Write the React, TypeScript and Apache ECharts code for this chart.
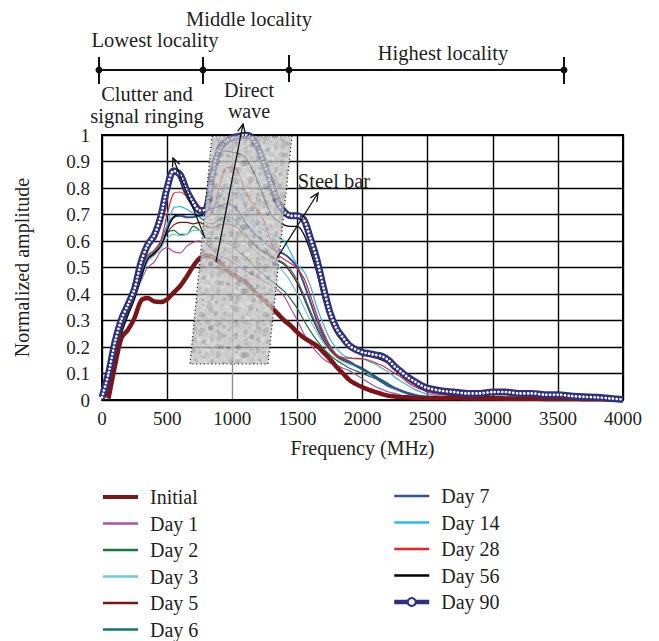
import React, { useEffect, useRef } from "react";
import * as echarts from "echarts";

// Frequency grid (MHz)
const freq: number[] = [
  0, 50, 100, 150, 200, 250, 300, 350, 400, 450,
  500, 550, 600, 650, 700, 750, 800, 850, 900, 950,
  1000, 1050, 1100, 1150, 1200, 1250, 1300, 1350, 1400, 1450,
  1500, 1550, 1600, 1650, 1700, 1750, 1800, 1850, 1900, 1950,
  2000, 2050, 2100, 2150, 2200, 2250, 2300, 2350, 2400, 2450,
  2500, 2600, 2700, 2800, 2900, 3000, 3100, 3200, 3300, 3400,
  3500, 3600, 3700, 3800, 3900, 4000,
];

const initial: (number | null)[] = [
  null, 0.005, 0.13, 0.235, 0.265, 0.31, 0.375, 0.385, 0.372, 0.37,
  0.38, 0.405, 0.43, 0.465, 0.505, 0.535, 0.545, 0.54, 0.52, 0.495,
  0.475, 0.46, 0.445, 0.42, 0.395, 0.375, 0.35, 0.325, 0.3, 0.28,
  0.255, 0.235, 0.22, 0.205, 0.18, 0.155, 0.125, 0.1, 0.075, 0.06,
  0.048, 0.038, 0.03, 0.022, 0.016, 0.013, 0.01, 0.01, 0.008, 0.008,
  0.008, 0.007, 0.007, 0.006, 0.006, 0.006, 0.005, 0.005, 0.005, 0.004,
  0.004, 0.004, 0.003, 0.003, 0.002, 0.002,
];

const day1: number[] = [
  0, 0.04, 0.15, 0.26, 0.33, 0.39, 0.45, 0.5, 0.52, 0.56,
  0.575, 0.56, 0.555, 0.58, 0.595, 0.6, 0.59, 0.565, 0.545, 0.535,
  0.52, 0.505, 0.49, 0.475, 0.46, 0.445, 0.43, 0.415, 0.39, 0.345,
  0.3, 0.25, 0.21, 0.18, 0.155, 0.14, 0.13, 0.12, 0.11, 0.095,
  0.08, 0.065, 0.05, 0.04, 0.03, 0.025, 0.018, 0.012, 0.01, 0.009,
  0.008, 0.008, 0.007, 0.007, 0.006, 0.006, 0.006, 0.005, 0.005, 0.005,
  0.004, 0.004, 0.003, 0.003, 0.002, 0.002,
];

const day2: number[] = [
  0, 0.04, 0.15, 0.26, 0.33, 0.4, 0.47, 0.53, 0.55, 0.58,
  0.63, 0.64, 0.625, 0.625, 0.655, 0.64, 0.61, 0.61, 0.61, 0.595,
  0.58, 0.56, 0.54, 0.515, 0.49, 0.47, 0.45, 0.43, 0.41, 0.38,
  0.345, 0.3, 0.26, 0.225, 0.195, 0.17, 0.15, 0.135, 0.12, 0.11,
  0.1, 0.09, 0.08, 0.065, 0.05, 0.04, 0.03, 0.022, 0.016, 0.012,
  0.01, 0.008, 0.007, 0.007, 0.006, 0.006, 0.006, 0.005, 0.005, 0.005,
  0.004, 0.004, 0.003, 0.003, 0.002, 0.002,
];

const day3: number[] = [
  0, 0.05, 0.16, 0.27, 0.34, 0.4, 0.46, 0.52, 0.545, 0.57,
  0.61, 0.625, 0.62, 0.625, 0.64, 0.64, 0.625, 0.64, 0.665, 0.675,
  0.67, 0.645, 0.605, 0.575, 0.55, 0.535, 0.52, 0.505, 0.48, 0.445,
  0.4, 0.35, 0.3, 0.255, 0.215, 0.185, 0.16, 0.145, 0.135, 0.125,
  0.115, 0.1, 0.085, 0.07, 0.055, 0.04, 0.03, 0.022, 0.016, 0.012,
  0.01, 0.008, 0.007, 0.007, 0.006, 0.006, 0.006, 0.005, 0.005, 0.005,
  0.004, 0.004, 0.003, 0.003, 0.002, 0.002,
];

const day5: number[] = [
  0, 0.04, 0.15, 0.26, 0.33, 0.4, 0.47, 0.53, 0.55, 0.58,
  0.63, 0.66, 0.67, 0.67, 0.665, 0.67, 0.655, 0.65, 0.66, 0.665,
  0.66, 0.645, 0.62, 0.595, 0.57, 0.555, 0.54, 0.525, 0.51, 0.48,
  0.44, 0.385, 0.325, 0.27, 0.225, 0.19, 0.165, 0.15, 0.14, 0.13,
  0.12, 0.105, 0.09, 0.075, 0.06, 0.045, 0.033, 0.024, 0.018, 0.013,
  0.01, 0.008, 0.007, 0.007, 0.006, 0.006, 0.006, 0.005, 0.005, 0.005,
  0.004, 0.004, 0.003, 0.003, 0.002, 0.002,
];

const day6: number[] = [
  0, 0.04, 0.15, 0.26, 0.33, 0.4, 0.47, 0.535, 0.555, 0.585,
  0.65, 0.69, 0.695, 0.7, 0.7, 0.69, 0.67, 0.665, 0.68, 0.69,
  0.685, 0.665, 0.63, 0.6, 0.575, 0.56, 0.545, 0.53, 0.515, 0.49,
  0.45, 0.395, 0.335, 0.28, 0.235, 0.195, 0.17, 0.155, 0.14, 0.13,
  0.12, 0.105, 0.09, 0.075, 0.06, 0.045, 0.033, 0.024, 0.018, 0.013,
  0.01, 0.008, 0.007, 0.007, 0.006, 0.006, 0.006, 0.005, 0.005, 0.005,
  0.004, 0.004, 0.003, 0.003, 0.002, 0.002,
];

const day7: number[] = [
  0, 0.05, 0.16, 0.27, 0.34, 0.41, 0.48, 0.54, 0.56, 0.59,
  0.655, 0.69, 0.695, 0.69, 0.69, 0.7, 0.715, 0.725, 0.73, 0.74,
  0.735, 0.71, 0.67, 0.64, 0.615, 0.595, 0.575, 0.56, 0.55, 0.53,
  0.5, 0.44, 0.37, 0.3, 0.245, 0.2, 0.17, 0.155, 0.145, 0.13,
  0.115, 0.1, 0.085, 0.07, 0.055, 0.045, 0.035, 0.027, 0.02, 0.015,
  0.012, 0.009, 0.008, 0.007, 0.007, 0.006, 0.006, 0.005, 0.005, 0.005,
  0.004, 0.004, 0.003, 0.003, 0.002, 0.002,
];

const day14: number[] = [
  0, 0.06, 0.17, 0.27, 0.34, 0.41, 0.48, 0.54, 0.56, 0.585,
  0.66, 0.725, 0.73, 0.72, 0.705, 0.695, 0.69, 0.72, 0.76, 0.8,
  0.8, 0.785, 0.735, 0.69, 0.655, 0.64, 0.625, 0.615, 0.6, 0.555,
  0.51, 0.485, 0.43, 0.35, 0.285, 0.23, 0.195, 0.17, 0.16, 0.155,
  0.155, 0.145, 0.135, 0.12, 0.105, 0.085, 0.07, 0.055, 0.04, 0.03,
  0.022, 0.015, 0.012, 0.01, 0.009, 0.009, 0.008, 0.007, 0.007, 0.006,
  0.005, 0.005, 0.004, 0.004, 0.003, 0.002,
];

const day28: number[] = [
  0, 0.03, 0.15, 0.27, 0.34, 0.41, 0.49, 0.545, 0.565, 0.6,
  0.7, 0.78, 0.785, 0.77, 0.755, 0.73, 0.7, 0.71, 0.8, 0.875,
  0.88, 0.855, 0.79, 0.745, 0.71, 0.67, 0.59, 0.55, 0.53, 0.515,
  0.495, 0.46, 0.395, 0.32, 0.255, 0.205, 0.17, 0.16, 0.158, 0.157,
  0.155, 0.15, 0.14, 0.13, 0.115, 0.1, 0.085, 0.065, 0.05, 0.04,
  0.03, 0.02, 0.015, 0.012, 0.01, 0.01, 0.009, 0.008, 0.008, 0.007,
  0.006, 0.006, 0.005, 0.004, 0.003, 0.003,
];

const day56: number[] = [
  0, 0.03, 0.14, 0.25, 0.32, 0.38, 0.46, 0.53, 0.555, 0.58,
  0.64, 0.69, 0.7, 0.7, 0.7, 0.695, 0.71, 0.82, 0.925, 0.94,
  0.935, 0.93, 0.915, 0.875, 0.82, 0.755, 0.7, 0.675, 0.66, 0.655,
  0.655, 0.625, 0.56, 0.48, 0.38, 0.31, 0.25, 0.22, 0.2, 0.19,
  0.18, 0.17, 0.16, 0.15, 0.14, 0.13, 0.11, 0.09, 0.065, 0.05,
  0.04, 0.025, 0.018, 0.015, 0.013, 0.012, 0.011, 0.01, 0.009, 0.008,
  0.007, 0.006, 0.005, 0.004, 0.003, 0.003,
];

const day90: number[] = [
  0.01, 0.1, 0.22, 0.305, 0.36, 0.42, 0.52, 0.585, 0.62, 0.69,
  0.8, 0.865, 0.85, 0.79, 0.745, 0.715, 0.72, 0.86, 0.945, 0.975,
  0.99, 0.995, 1.0, 0.99, 0.95, 0.885, 0.815, 0.745, 0.71, 0.695,
  0.695, 0.68, 0.61, 0.53, 0.425, 0.33, 0.27, 0.235, 0.205, 0.19,
  0.18, 0.175, 0.17, 0.165, 0.15, 0.125, 0.105, 0.085, 0.07, 0.055,
  0.045, 0.035, 0.03, 0.025, 0.025, 0.03, 0.03, 0.025, 0.025, 0.02,
  0.02, 0.015, 0.012, 0.01, 0.006, 0.002,
];

const legendLeft: string[] = ["Initial", "Day 1", "Day 2", "Day 3", "Day 5", "Day 6"];
const legendRight: string[] = ["Day 7", "Day 14", "Day 28", "Day 56", "Day 90"];
const yTicks: number[] = [0, 0.1, 0.2, 0.3, 0.4, 0.5, 0.6, 0.7, 0.8, 0.9, 1];

const FONT = "'Liberation Serif', 'Times New Roman', serif";
const TXT = "#231f20";
const NAVY = "#2e3080";

function makeNoise(): string {
  const size = 64;
  const c = document.createElement("canvas");
  c.width = size;
  c.height = size;
  const ctx = c.getContext("2d");
  if (!ctx) return "";
  ctx.fillStyle = "#c2c2c2";
  ctx.fillRect(0, 0, size, size);
  let s = 987654;
  const rnd = () => {
    s = (s * 1103515245 + 12345) & 0x7fffffff;
    return s / 0x7fffffff;
  };
  for (let i = 0; i < 320; i++) {
    const x = rnd() * size;
    const y = rnd() * size;
    const r = 0.8 + rnd() * 2.2;
    const g = Math.floor(100 + rnd() * 140);
    ctx.fillStyle = `rgba(${g},${g},${g},0.4)`;
    ctx.beginPath();
    ctx.arc(x, y, r, 0, Math.PI * 2);
    ctx.fill();
  }
  return c.toDataURL();
}

function arrow(x1: number, y1: number, x2: number, y2: number) {
  const dx = x2 - x1;
  const dy = y2 - y1;
  const len = Math.sqrt(dx * dx + dy * dy);
  const ux = dx / len;
  const uy = dy / len;
  const a = (25 * Math.PI) / 180;
  const L = 9;
  const w1x = x2 - L * (ux * Math.cos(a) - uy * Math.sin(a));
  const w1y = y2 - L * (ux * Math.sin(a) + uy * Math.cos(a));
  const w2x = x2 - L * (ux * Math.cos(-a) - uy * Math.sin(-a));
  const w2y = y2 - L * (ux * Math.sin(-a) + uy * Math.cos(-a));
  return [
    { type: "line", z: 120, shape: { x1, y1, x2, y2 }, style: { stroke: "#111", lineWidth: 1.3 } },
    {
      type: "polyline",
      z: 120,
      shape: { points: [[w1x, w1y], [x2, y2], [w2x, w2y]] },
      style: { stroke: "#111", lineWidth: 1.3, fill: "none" },
    },
  ];
}

function label(text: string, x: number, y: number, lineHeight = 20, size = 20.5) {
  return {
    type: "text",
    z: 120,
    x,
    y,
    style: {
      text,
      fill: TXT,
      font: `${size}px ${FONT}`,
      lineHeight,
      textAlign: "center",
      textVerticalAlign: "middle",
    },
  };
}

export default function App() {
  const ref = useRef<HTMLDivElement>(null);

  useEffect(() => {
    if (!ref.current) return;
    const chart = echarts.init(ref.current, undefined, { renderer: "svg" });
    const pair = (arr: (number | null)[]) => freq.map((f, i) => [f, arr[i]]);

    const thin = (name: string, arr: number[], color: string, width = 1.2) => ({
      name,
      type: "line",
      data: pair(arr),
      smooth: 0.3,
      symbol: "none",
      lineStyle: { color, width },
      itemStyle: { color },
      z: 2,
    });

    const noise = makeNoise();
    const timelineX = [99, 203, 289, 564];
    const tickTop = [57, 57, 55, 57];

    const graphics: any[] = [
      { type: "line", shape: { x1: 99, y1: 70, x2: 564, y2: 70 }, style: { stroke: "#111", lineWidth: 2 } },
      ...timelineX.map((x, i) => ({
        type: "line",
        shape: { x1: x, y1: tickTop[i], x2: x, y2: tickTop[i] + 27 },
        style: { stroke: "#111", lineWidth: 2 },
      })),
      ...timelineX.map((x) => ({
        type: "circle",
        shape: { cx: x, cy: 70, r: 3.5 },
        style: { fill: "#111" },
      })),
      label("Middle locality", 249, 19),
      label("Lowest locality", 155, 40),
      label("Highest locality", 443, 53),
      label("Clutter and\nsignal ringing", 147, 105, 22),
      label("Direct\nwave", 249, 100.5, 21, 20),
      label("Steel bar", 334, 181),
      {
        type: "polygon",
        z: 100,
        shape: { points: [[212, 136], [292, 136], [268, 364], [190, 364]] },
        style: noise
          ? { fill: { image: noise, repeat: "repeat", imageWidth: 64, imageHeight: 64 }, opacity: 0.78 }
          : { fill: "#bcbcbc", opacity: 0.78 },
      },
      {
        type: "polygon",
        z: 101,
        shape: { points: [[212, 136], [292, 136], [268, 364], [190, 364]] },
        style: { fill: "none", stroke: "#222", lineWidth: 1.2, lineDash: [1.2, 2.6] },
      },
      ...arrow(205, 238, 173, 158),
      ...arrow(216, 262, 243, 124),
      ...arrow(277, 258, 318, 193),
    ];

    const legendBase = {
      orient: "vertical",
      itemWidth: 35,
      itemHeight: 10,
      itemGap: 6.5,
      padding: 0,
      height: 180,
      textStyle: { fontFamily: FONT, fontSize: 20, color: TXT, lineHeight: 20, padding: [0, 0, 0, 7] },
    };
    const thinIcon = "path://M0,0H35V2.6H0Z";
    const thickIcon = "path://M0,0H35V4.2H0Z";
    const leftData = legendLeft.map((n) => ({ name: n, icon: n === "Initial" ? thickIcon : thinIcon }));
    const rightData = legendRight.map((n) =>
      n === "Day 90" ? { name: n, lineStyle: { width: 4.5 } } : { name: n, icon: thinIcon }
    );

    const option: any = {
      animation: false,
      grid: {
        left: 102,
        top: 135,
        width: 521,
        height: 265,
        show: true,
        borderColor: "#000",
        borderWidth: 2,
        containLabel: false,
      },
      xAxis: {
        type: "value",
        min: 0,
        max: 4000,
        interval: 500,
        name: "Frequency (MHz)",
        nameLocation: "middle",
        nameGap: 38,
        nameTextStyle: { fontFamily: FONT, fontSize: 20, color: TXT },
        axisLine: { lineStyle: { color: "#000", width: 2 } },
        axisTick: { show: false },
        axisLabel: { fontFamily: FONT, fontSize: 19, color: TXT, margin: 9, formatter: (v: number) => String(v) },
        splitLine: {
          show: true,
          lineStyle: {
            color: ["#000", "#000", "#8c8c8c", "#000", "#000", "#000", "#000", "#000", "#000"],
            width: 1.4,
          },
        },
      },
      yAxis: {
        type: "value",
        min: 0,
        max: 1,
        interval: 0.1,
        name: "Normalized amplitude",
        nameLocation: "middle",
        nameGap: 70,
        nameTextStyle: { fontFamily: FONT, fontSize: 20, color: TXT },
        axisLine: { show: true, lineStyle: { color: "#000", width: 2 } },
        axisTick: { show: false },
        axisLabel: {
          fontFamily: FONT,
          fontSize: 19,
          color: TXT,
          margin: 12,
          formatter: (v: number) => {
            const t = yTicks.find((k) => Math.abs(k - v) < 1e-6);
            return t === undefined ? "" : String(t);
          },
        },
        splitLine: { show: true, lineStyle: { color: "#000", width: 1.4 } },
      },
      legend: [
        { ...legendBase, left: 103, top: 487, data: leftData },
        { ...legendBase, left: 392, top: 486, data: rightData },
      ],
      graphic: graphics,
      series: [
        thin("Day 1", day1, "#b14fa6"),
        thin("Day 2", day2, "#177a3b"),
        thin("Day 3", day3, "#6ccad4"),
        thin("Day 5", day5, "#7a1418"),
        thin("Day 6", day6, "#0f756f"),
        thin("Day 7", day7, "#3350a0", 2),
        thin("Day 14", day14, "#2bb9e9"),
        thin("Day 28", day28, "#ec2224"),
        thin("Day 56", day56, "#000000"),
        {
          name: "Initial",
          type: "line",
          data: pair(initial),
          smooth: 0.3,
          symbol: "none",
          lineStyle: { color: "#7b1518", width: 4.5 },
          itemStyle: { color: "#7b1518" },
          z: 3,
        },
        {
          name: "Day 90",
          type: "line",
          data: pair(day90),
          smooth: 0.3,
          symbol: "circle",
          symbolSize: 7,
          showSymbol: false,
          lineStyle: { color: NAVY, width: 7 },
          itemStyle: { color: "#ffffff", borderColor: NAVY, borderWidth: 1.8 },
          z: 4,
        },
        {
          name: "Day 90 rings",
          type: "line",
          data: pair(day90),
          smooth: 0.3,
          symbol: "none",
          silent: true,
          lineStyle: { color: "#ffffff", width: 2.6, type: [0.1, 3.6], cap: "round" },
          z: 5,
        },
      ],
    };

    chart.setOption(option);
    return () => chart.dispose();
  }, []);

  return <div ref={ref} style={{ position: "absolute", left: 0, top: 0, width: 659, height: 641 }} />;
}
